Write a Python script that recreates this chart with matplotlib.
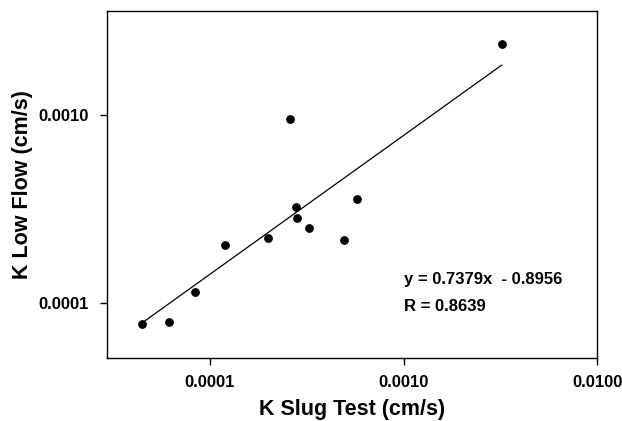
import matplotlib
matplotlib.use("Agg")
import matplotlib.pyplot as plt
import numpy as np
from matplotlib.ticker import FixedLocator, FuncFormatter, NullLocator

plt.rcParams['font.family'] = ['Liberation Sans', 'DejaVu Sans']

# K values (cm/s)
k_slug = [4.44e-5, 6.17e-5, 8.37e-5, 1.19e-4, 2.00e-4, 2.58e-4,
          2.79e-4, 2.82e-4, 3.26e-4, 4.94e-4, 5.75e-4, 3.21e-3]
k_low = [7.73e-5, 7.96e-5, 1.144e-4, 2.03e-4, 2.22e-4, 9.48e-4,
         3.24e-4, 2.82e-4, 2.515e-4, 2.16e-4, 3.59e-4, 2.39e-3]

slope = 0.7379
intercept = -0.8956
r_value = 0.8639

x_ticks = [0.0001, 0.0010, 0.0100]
y_ticks = [0.0001, 0.0010]

fig = plt.figure(figsize=(6.22, 4.21), dpi=100)
ax = fig.add_axes([0.172, 0.1496, 0.788, 0.8244])

ax.scatter(k_slug, k_low, s=28, color='black', zorder=3)

# regression line in log space
lx = np.log10([min(k_slug), max(k_slug)])
ax.plot(10 ** lx, 10 ** (slope * lx + intercept), color='black', lw=0.9)

ax.set_xscale('log')
ax.set_yscale('log')
ax.set_xlim(2.94e-5, 0.01)
ax.set_ylim(5.1e-5, 3.57e-3)

ax.xaxis.set_major_locator(FixedLocator(x_ticks))
ax.yaxis.set_major_locator(FixedLocator(y_ticks))
ax.xaxis.set_minor_locator(NullLocator())
ax.yaxis.set_minor_locator(NullLocator())
fmt = FuncFormatter(lambda v, p: f"{v:.4f}")
ax.xaxis.set_major_formatter(fmt)
ax.yaxis.set_major_formatter(fmt)

ax.tick_params(direction='out', length=5, width=1, labelsize=12)
ax.tick_params(axis='x', pad=7)
ax.tick_params(axis='y', pad=8)
for lab in ax.get_xticklabels() + ax.get_yticklabels():
    lab.set_fontweight('bold')
for sp in ax.spines.values():
    sp.set_linewidth(1)

ax.set_xlabel('K Slug Test (cm/s)', fontsize=15.5, fontweight='bold', labelpad=7)
ax.set_ylabel('K Low Flow (cm/s)', fontsize=15.5, fontweight='bold', labelpad=4)

ax.text(0.0010, 1.34e-4, f"y = {slope}x  - {abs(intercept)}", fontsize=12,
        fontweight='bold', va='center', ha='left')
ax.text(0.0010, 0.964e-4, f"R = {r_value}", fontsize=12,
        fontweight='bold', va='center', ha='left')

fig.savefig('out.png', dpi=100)
